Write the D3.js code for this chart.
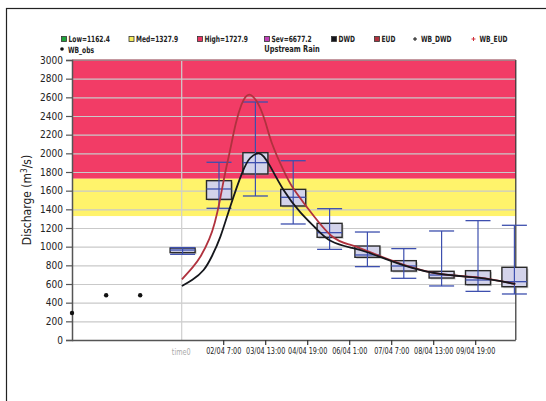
<!DOCTYPE html>
<html>
<head>
<meta charset="utf-8">
<script src="https://cdn.jsdelivr.net/npm/d3@7"></script>
<style>
  body { margin: 0; background: #fff; }
  svg { display: block; font-family: "DejaVu Sans Condensed", "DejaVu Sans", sans-serif; }
</style>
</head>
<body>
<svg id="chart" width="546" height="401"></svg>
<script>
// warning levels
const levelNames = ['Low', 'Med', 'High', 'Sev'];
const levelValues = [1162.4, 1327.9, 1727.9, 6677.2];

// observations (hours relative to time0)
const obsHours = [-78, -53.6, -29.3];
const obsValues = [290, 480, 480];

// ensemble boxes
const boxHours = [1, 27, 53, 80, 106, 133, 159, 186, 212, 238];
const boxMin = [918, 1411, 1543, 1243, 971, 786, 661, 579, 521, 493];
const boxQ1 = [936, 1507, 1779, 1436, 1100, 886, 739, 664, 593, 571];
const boxMed = [964, 1618, 1900, 1529, 1150, 911, 793, 696, 643, 625];
const boxQ3 = [985, 1707, 2007, 1614, 1250, 1007, 850, 736, 743, 779];
const boxMax = [990, 1904, 2550, 1921, 1407, 1157, 979, 1168, 1279, 1229];

// deterministic forecasts
const dwdHours = [0.5, 8, 16, 22, 28, 35, 43.4, 49.3, 55.2, 59, 63.6, 73, 85, 96, 107, 121, 134, 159, 186, 213, 238.6];
const dwdValues = [579, 645, 750, 900, 1107, 1428, 1786, 1950, 2000, 1965, 1860, 1610, 1371, 1200, 1060, 990, 935, 800, 706, 665, 600];
const eudHours = [0.5, 8, 14, 20, 24, 27.4, 31, 35, 39, 43, 46, 48.6, 51, 55, 60, 65, 73, 80, 90, 107, 121, 134, 159, 186, 213, 238.6];
const eudValues = [650, 775, 900, 1080, 1260, 1480, 1760, 2040, 2320, 2520, 2605, 2628, 2610, 2530, 2340, 2100, 1821, 1625, 1420, 1120, 1020, 946, 806, 706, 668, 600];

// x axis
const tickHours = [30, 60, 90, 120, 150, 180, 210];
const tickLabels = ['02/04 7:00', '03/04 13:00', '04/04 19:00', '06/04 1:00', '07/04 7:00', '08/04 13:00', '09/04 19:00'];
const yTicks = d3.range(0, 3001, 200);

const colors = {
  Low: '#1fa33a', Med: '#f6ec5a', High: '#ea3563', Sev: '#c040b8',
  DWD: '#15171c', EUD: '#b0323e'
};

const svg = d3.select('#chart');
const margin = { left: 72, top: 60, right: 30.2, bottom: 61 };
const W = 546, H = 401;

const x = d3.scaleLinear().domain([-78, 239]).range([margin.left, W - margin.right]);
const y = d3.scaleLinear().domain([0, 3000]).range([H - margin.bottom, margin.top]);

// narrow text helper (the original font is a condensed face)
const narrowText = (g, tx, ty, s, str) => g.append('text')
  .attr('transform', `translate(${tx},${ty}) scale(${s},1)`)
  .text(str);

// outer frame
svg.append('rect')
  .attr('x', 6.5).attr('y', 8.5).attr('width', 560).attr('height', 420)
  .attr('fill', 'none').attr('stroke', '#222').attr('stroke-width', 1.2);

// warning zones
svg.append('rect')
  .attr('x', x(-78)).attr('width', x(239) - x(-78))
  .attr('y', y(3000)).attr('height', y(levelValues[2]) - y(3000))
  .attr('fill', '#f23c66');
svg.append('rect')
  .attr('x', x(-78)).attr('width', x(239) - x(-78))
  .attr('y', y(levelValues[2])).attr('height', y(levelValues[1]) - y(levelValues[2]))
  .attr('fill', '#fff36b');

// grid
svg.append('g').selectAll('line')
  .data(yTicks.slice(1))
  .enter().append('line')
  .attr('x1', x(-78)).attr('x2', x(239))
  .attr('y1', d => y(d) + 0.5).attr('y2', d => y(d) + 0.5)
  .attr('stroke', '#c9c9c9').attr('stroke-width', 1.2);

svg.append('line')
  .attr('x1', x(0) + 0.5).attr('x2', x(0) + 0.5)
  .attr('y1', y(3000)).attr('y2', y(0))
  .attr('stroke', '#cfcfcf').attr('stroke-width', 1.2);

// frame of plot
svg.append('line')
  .attr('x1', x(239)).attr('x2', x(239)).attr('y1', y(3000)).attr('y2', y(0))
  .attr('stroke', '#333').attr('stroke-width', 1.2);
svg.append('line')
  .attr('x1', x(-78)).attr('x2', x(239)).attr('y1', y(3000)).attr('y2', y(3000))
  .attr('stroke', '#8a3040').attr('stroke-width', 1);

// y axis
const yAxis = svg.append('g')
  .attr('transform', `translate(${margin.left},0)`)
  .call(d3.axisLeft(y).tickValues(yTicks).tickFormat(d3.format('d')).tickSize(6).tickPadding(3));
yAxis.select('.domain').attr('stroke', '#555').attr('stroke-width', 1.5);
yAxis.selectAll('.tick line').attr('stroke', '#555').attr('stroke-width', 1.2);
yAxis.selectAll('text').attr('font-size', '10px').attr('fill', '#222')
  .attr('font-family', '"DejaVu Sans Condensed", sans-serif');

// x axis
const xAxis = svg.append('g')
  .attr('transform', `translate(0,${y(0)})`)
  .call(d3.axisBottom(x).tickValues(tickHours).tickFormat((d, i) => tickLabels[i]).tickSize(5).tickPadding(3));
xAxis.select('.domain').attr('d', `M${x(-78)},0.5H${x(239)}`).attr('stroke', '#555').attr('stroke-width', 1.5);
xAxis.selectAll('.tick line').attr('stroke', '#333').attr('stroke-width', 1.2);
xAxis.selectAll('text').attr('font-size', '9px').attr('fill', '#222')
  .attr('transform', 'scale(0.8,1)')
  .attr('font-family', '"DejaVu Sans Condensed", sans-serif');

narrowText(svg, x(0), y(0) + 15, 0.8, 'time0')
  .attr('text-anchor', 'middle').attr('font-size', '9px').attr('fill', '#aaa');

// y label
svg.append('text')
  .attr('transform', `translate(31,${(y(0) + y(3000)) / 2}) rotate(-90)`)
  .attr('text-anchor', 'middle').attr('font-size', '12px').attr('fill', '#222')
  .html('Discharge (m<tspan dy="-4" font-size="8px">3</tspan><tspan dy="4">/s)</tspan>');

// boxes
const bw = 25;
const boxes = svg.append('g').selectAll('g')
  .data(boxHours.map((h, i) => ({ h, lo: boxMin[i], q1: boxQ1[i], md: boxMed[i], q3: boxQ3[i], hi: boxMax[i] })))
  .enter().append('g');

boxes.append('rect')
  .attr('x', d => x(d.h) - bw / 2 + 1.5).attr('y', d => y(d.q3) + 1.5)
  .attr('width', bw).attr('height', d => y(d.q1) - y(d.q3))
  .attr('fill', '#999').attr('opacity', 0.45);
boxes.append('rect')
  .attr('x', d => x(d.h) - bw / 2).attr('y', d => y(d.q3))
  .attr('width', bw).attr('height', d => y(d.q1) - y(d.q3))
  .attr('fill', '#d3d3ea').attr('stroke', '#2a2a2a').attr('stroke-width', 1.4);

const blue = '#3d4fae';
boxes.append('line')
  .attr('x1', d => x(d.h)).attr('x2', d => x(d.h))
  .attr('y1', d => y(d.lo)).attr('y2', d => y(d.hi))
  .attr('stroke', blue).attr('stroke-width', 1.2);
['lo', 'hi', 'md'].forEach(k => {
  boxes.append('line')
    .attr('x1', d => x(d.h) - bw / 2).attr('x2', d => x(d.h) + bw / 2)
    .attr('y1', d => y(d[k])).attr('y2', d => y(d[k]))
    .attr('stroke', blue).attr('stroke-width', 1.3);
});

// forecast lines
const line = d3.line().x(d => x(d[0])).y(d => y(d[1])).curve(d3.curveNatural);
svg.append('path')
  .datum(eudHours.map((h, i) => [h, eudValues[i]]))
  .attr('d', line).attr('fill', 'none').attr('stroke', colors.EUD).attr('stroke-width', 1.8);
svg.append('path')
  .datum(dwdHours.map((h, i) => [h, dwdValues[i]]))
  .attr('d', line).attr('fill', 'none').attr('stroke', colors.DWD).attr('stroke-width', 1.8);

// observations
svg.append('g').selectAll('circle')
  .data(obsHours.map((h, i) => [h, obsValues[i]]))
  .enter().append('circle')
  .attr('cx', d => x(d[0])).attr('cy', d => y(d[1])).attr('r', 2.2)
  .attr('fill', '#111');

// legend
const legend = svg.append('g').attr('font-size', '8.5px').attr('font-weight', 'bold').attr('fill', '#222');
const legendX = [61.5, 129, 197.5, 264.5, 331.5, 374.5];
const legendItems = levelNames.map((n, i) => ({ key: n, label: `${n}=${levelValues[i]}` }))
  .concat([{ key: 'DWD', label: 'DWD' }, { key: 'EUD', label: 'EUD' }]);
legendItems.forEach((d, i) => {
  legend.append('rect')
    .attr('x', legendX[i]).attr('y', 36.5).attr('width', 5).attr('height', 5)
    .attr('fill', colors[d.key]).attr('stroke', '#333').attr('stroke-width', 0.8);
  narrowText(legend, legendX[i] + 7, 42, 0.78, d.label);
});
[[415, 'WB_DWD', '#111'], [473.5, 'WB_EUD', '#d0303a']].forEach(([lx, label, c]) => {
  legend.append('path')
    .attr('d', `M${lx - 2},39H${lx + 2}M${lx},37V41`)
    .attr('stroke', c).attr('stroke-width', 1);
  narrowText(legend, lx + 6, 42, 0.78, label);
});
legend.append('circle').attr('cx', 62).attr('cy', 49).attr('r', 1.8).attr('fill', '#111');
narrowText(legend, 68, 52.5, 0.78, 'WB_obs');

narrowText(svg, 292, 52, 0.78, 'Upstream Rain')
  .attr('text-anchor', 'middle')
  .attr('font-size', '9.5px').attr('font-weight', 'bold').attr('fill', '#222');
</script>
</body>
</html>
